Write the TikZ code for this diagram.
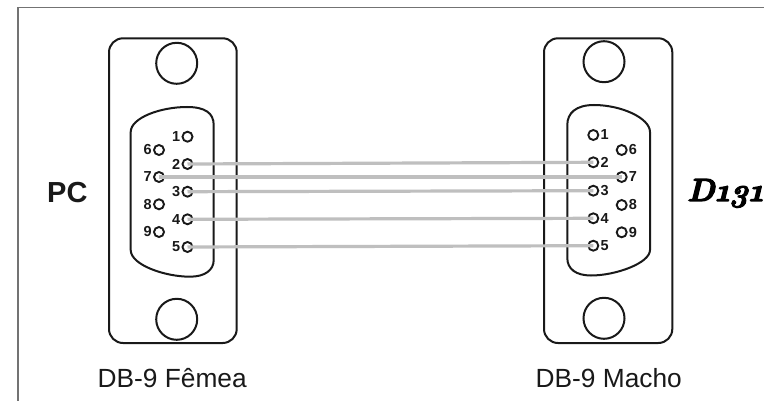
\documentclass[tikz,border=0pt]{standalone}
\usepackage{fontspec}
\setmainfont{Liberation Sans}
\newfontfamily\dfont[Numbers=OldStyle,FakeBold=3.5]{Latin Modern Roman}
\tikzset{
  x=1pt,y=-1pt,
  outline/.style={draw=black!90,line width=2pt},
  frameline/.style={draw=black!55,line width=1.8pt},
  pin/.style={circle,draw=black!90,fill=white,line width=1.9pt,minimum size=10pt,inner sep=0pt},
  hole/.style={circle,draw=black!90,line width=2pt,minimum size=41pt,inner sep=0pt},
  wire/.style={draw=black!25!white,line width=3.2pt},
  pinlabel/.style={inner sep=0pt,font=\fontsize{14.5}{14.5}\selectfont\bfseries,text=black!90},
  caption/.style={inner sep=0pt,font=\fontsize{26.3}{26.3}\selectfont,text=black!90},
}
\begin{document}
\begin{tikzpicture}
\useasboundingbox (0,0) rectangle (764,401);
\fill[white] (0,0) rectangle (764,401);
\draw[frameline] (18,401) -- (18,7.5) -- (764,7.5);
% left connector
\draw[outline,rounded corners=14pt] (109,38.3) rectangle (236.7,343);
\node[hole] (lt) at (176.7,63.3) {};
\node[hole] (lb) at (176.7,319.3) {};
\draw[outline] (130.7,132) .. controls (130.7,118) and (160,107) .. (187,107)
  .. controls (205,107) and (213.7,113) .. (213.7,125) -- (213.7,260)
  .. controls (213.7,270) and (205,276.7) .. (190,276.7)
  .. controls (165,276.7) and (130.7,265) .. (130.7,250) -- cycle;
% right connector
\draw[outline,rounded corners=14pt] (544,38.3) rectangle (672.3,343);
\node[hole] (rt) at (604,61.7) {};
\node[hole] (rb) at (604,318.3) {};
\draw[outline] (567.3,125) .. controls (567.3,113) and (576,105) .. (594,105)
  .. controls (621,105) and (650,118) .. (650,132) -- (650,250)
  .. controls (650,263) and (616,275.5) .. (591,275.5)
  .. controls (576,275.5) and (567.3,269) .. (567.3,258) -- cycle;
% pins left
\foreach \n/\px/\py in {1/187.5/136.7,6/159/150,2/187.5/164,7/159/177,3/187.5/191.7,8/159/204.3,4/187.5/219.3,9/159/232,5/187.5/247}{
  \node[pin] (L\n) at (\px,\py) {};
  \node[pinlabel,anchor=east] (LT\n) at (\px-7,\py) {\n};
}
% pins right
\foreach \n/\px/\py in {1/593.3/135,6/621.7/150,2/593.3/162.3,7/621.7/177,3/593.3/190.7,8/621.7/205,4/593.3/218.3,9/621.7/232.3,5/593.3/245.7}{
  \node[pin] (R\n) at (\px,\py) {};
  \node[pinlabel,anchor=west] (RT\n) at (\px+7,\py) {\n};
}
% wires
\foreach \n in {2,7,3,4,5}{
  \draw[wire] (L\n.center) -- (R\n.center);
}
\node[inner sep=0pt,anchor=base west,font=\fontsize{29}{29}\selectfont\bfseries,text=black!90] (pc) at (47,203) {PC};
\node[caption,anchor=base west] (f) at (97.5,387) {DB-9 Fêmea};
\node[caption,anchor=base west] (m) at (535.5,387) {DB-9 Macho};
\node[inner sep=0pt,anchor=base east,font=\dfont\fontsize{32}{32}\selectfont\bfseries\itshape] (d) at (763.5,201) {D131};
\end{tikzpicture}
\end{document}
